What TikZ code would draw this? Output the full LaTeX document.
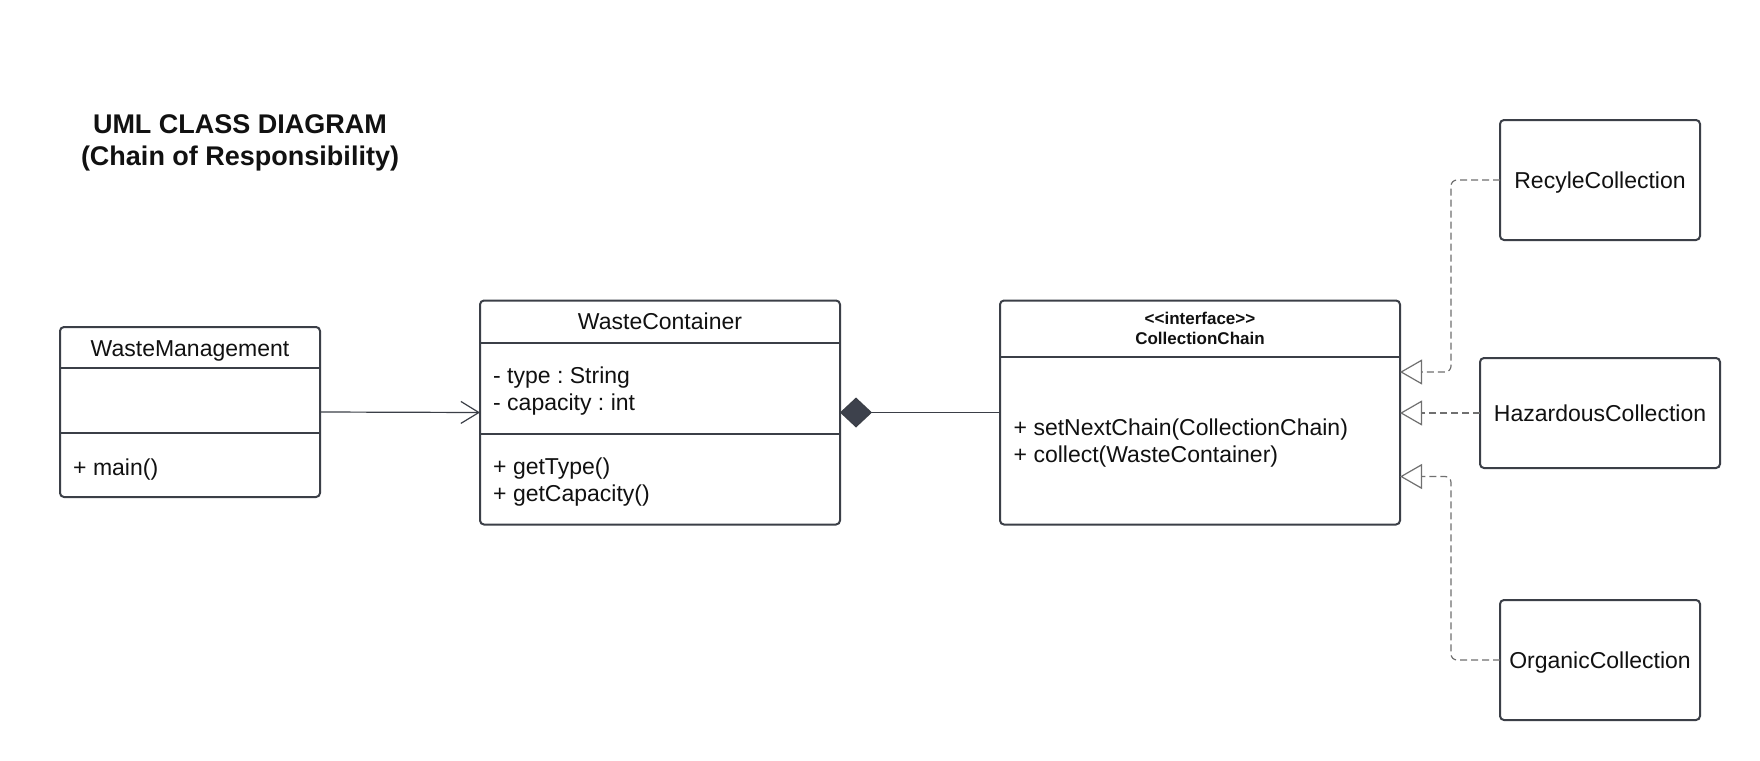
\documentclass[tikz,border=0pt]{standalone}
\usepackage{fontspec}
\setmainfont{Liberation Sans}
\usetikzlibrary{arrows.meta}
\frenchspacing

\definecolor{boxline}{HTML}{3B3F47}
\definecolor{diamondfill}{HTML}{3D414C}
\definecolor{dashgray}{HTML}{707070}
\definecolor{textblack}{HTML}{111111}

\newcommand{\membfont}{\fontsize{23}{27}\selectfont}
\newcommand{\headfont}{\fontsize{17}{20}\selectfont\bfseries}
\newcommand{\titlefont}{\fontsize{27}{32}\selectfont\bfseries}

\tikzset{
	classbox/.style={draw=boxline, line width=2pt, rounded corners=4pt, inner sep=0pt, outer sep=0pt},
	divider/.style={draw=boxline, line width=2pt},
	member/.style={anchor=west, font=\membfont, text=textblack, inner sep=0pt, text height=16.5pt, text depth=0pt},
	classname/.style={member, anchor=center},
	headline/.style={anchor=base, font=\headfont, text=textblack, inner sep=0pt},
	assoc/.style={draw=boxline, line width=1.2pt, -{Straight Barb[length=18pt,width=22pt]}},
	compose/.style={draw=boxline, line width=1.2pt, {Diamond[length=32pt,width=30pt,fill=diamondfill]}-},
	realize/.style={draw=dashgray, line width=1.2pt, dash pattern=on 7pt off 4pt, rounded corners=6pt,
		-{Triangle[length=22pt,width=25pt,fill=white]}}
}

\begin{document}
\begin{tikzpicture}[x=1pt, y=-1pt]
	\useasboundingbox[fill=white] (0,0) rectangle (1760,760);

	% title
	\node[font=\titlefont, text=textblack, align=center, inner sep=0pt] (title) at (240,143) {UML CLASS DIAGRAM\\(Chain of Responsibility)};

	% class boxes
	\node[classbox, minimum width=260pt, minimum height=170pt] (wm) at (190,412) {};
	\node[classbox, minimum width=360pt, minimum height=224pt] (wc) at (660,412.5) {};
	\node[classbox, minimum width=400pt, minimum height=224pt] (cc) at (1200,412.5) {};
	\node[classbox, minimum width=200pt, minimum height=120pt] (rc) at (1600,180) {};
	\node[classbox, minimum width=240pt, minimum height=110pt] (hc) at (1600,413) {};
	\node[classbox, minimum width=200pt, minimum height=120pt] (oc) at (1600,660) {};

	% dividers
	\draw[divider] (wm.west |- 0,368) -- (wm.east |- 0,368);
	\draw[divider] (wm.west |- 0,433) -- (wm.east |- 0,433);
	\draw[divider] (wc.west |- 0,343) -- (wc.east |- 0,343);
	\draw[divider] (wc.west |- 0,434) -- (wc.east |- 0,434);
	\draw[divider] (cc.west |- 0,357) -- (cc.east |- 0,357);

	% WasteManagement
	\node[classname] (wmname) at (190,348.5) {WasteManagement};
	\node[member] (wmmain) at (73,467) {+ main()};

	% WasteContainer
	\node[classname] (wcname) at (660,321) {WasteContainer};
	\node[member] (wctype) at (493,375) {- type : String};
	\node[member] (wccap) at (493,402) {- capacity : int};
	\node[member] (wcgettype) at (493,466) {+ getType()};
	\node[member] (wcgetcap) at (493,493) {+ getCapacity()};

	% CollectionChain
	\node[headline] (ccstereo) at (1200,324.5) {<\kern0pt<interface>\kern0pt>};
	\node[headline] (ccname) at (1200,344) {CollectionChain};
	\node[member] (ccnext) at (1013.5,427) {+ setNextChain(CollectionChain)};
	\node[member] (cccollect) at (1013.5,454) {+ collect(WasteContainer)};

	% concrete handlers
	\node[classname] (rcname) at (rc.center) {RecyleCollection};
	\node[classname] (hcname) at (hc.center) {HazardousCollection};
	\node[classname] (ocname) at (oc.center) {OrganicCollection};

	% connectors
	\coordinate (ccin1) at (cc.east |- 0,372);
	\coordinate (ccin3) at (cc.east |- 0,476.5);
	\coordinate (bendx) at (1451,0);
	\draw[assoc] (wm.east) -- (wc.west);
	\draw[compose] (wc.east) -- (cc.west);
	\draw[realize] (rc.west) -| (bendx |- ccin1) -- (ccin1);
	\draw[realize] (hc.west) -- (cc.east |- hc.west);
	\draw[realize] (oc.west) -| (bendx |- ccin3) -- (ccin3);
\end{tikzpicture}
\end{document}
